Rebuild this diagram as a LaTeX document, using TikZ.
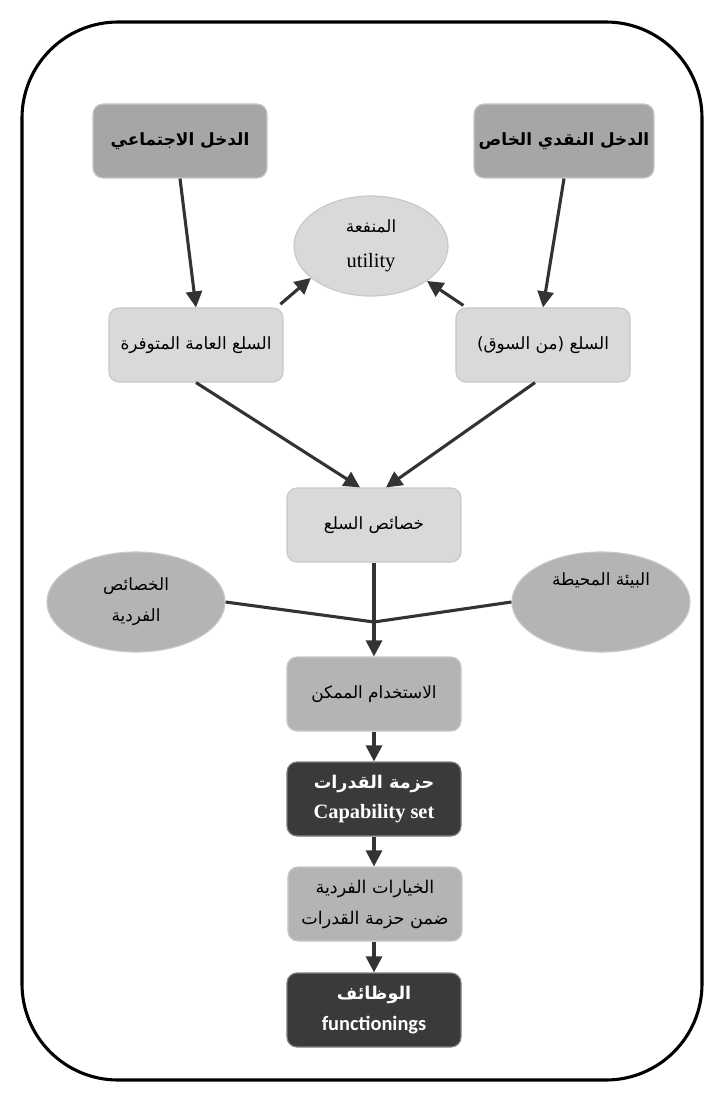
\documentclass[tikz,border=0pt]{standalone}
\usepackage{fontspec}
\setmainfont{Liberation Serif}
\newfontfamily\arabe[Script=Arabic]{DejaVu Sans}
\newfontfamily\calibri{Carlito}
\usepackage{xcolor}
\usepackage{tikz}
\usetikzlibrary{positioning, arrows.meta, shapes.geometric}
\TeXXeTstate=1
\definecolor{grisFuerte}{HTML}{A6A6A6}
\definecolor{grisMedio}{HTML}{B4B4B4}
\definecolor{grisClaro}{HTML}{D9D9D9}
\definecolor{grisOscuro}{HTML}{3A3A3A}
\definecolor{grisBorde}{HTML}{C8C8C8}
\definecolor{grisFlecha}{HTML}{333333}
\newcommand{\arabtxt}[1]{{\arabe\beginR #1\endR}}

\begin{document}
\begin{tikzpicture}[x=0.025cm, y=-0.025cm,
		caja/.style={shape=rectangle, rounded corners=0.25cm, draw=grisBorde, line width=0.8pt,
			minimum width=4.35cm, minimum height=1.85cm, align=center, font=\fontsize{12}{22}\selectfont},
		elipse/.style={shape=ellipse, draw=grisBorde, line width=0.8pt, align=center,
			minimum height=2.5cm, font=\fontsize{12}{22}\selectfont},
		flecha/.style={-{Triangle[length=0.4cm, width=0.4cm]}, line width=2.2pt, draw=grisFlecha},
		linea/.style={line width=2.2pt, draw=grisFlecha}]
	
	\useasboundingbox (0,0) rectangle (722,1100);
	
	% Marco exterior
	\draw[line width=2.2pt, rounded corners=2.4cm] (22,22) rectangle (702,1080);
	
	% Ingresos
	\node[caja, fill=grisFuerte] (IngresoSocial) at (180,141) {\bfseries\arabtxt{الدخل الاجتماعي}};
	\node[caja, fill=grisFuerte] (IngresoPrivado) at (564,141) {\bfseries\arabtxt{الدخل النقدي الخاص}};
	
	% Utilidad
	\node[elipse, fill=grisClaro, minimum width=3.85cm] (Utilidad) at (371,246)
		{\arabtxt{المنفعة}\\[0.1cm]{\fontsize{14.5}{22}\selectfont utility}};
	
	% Bienes
	\node[caja, fill=grisClaro] (BienesPublicos) at (196,345) {\arabtxt{السلع العامة المتوفرة}};
	\node[caja, fill=grisClaro] (BienesMercado) at (543,345) {\arabtxt{السلع (من السوق)}};
	\node[caja, fill=grisClaro] (Caracteristicas) at (374,525) {\arabtxt{خصائص السلع}};
	
	% Factores de conversion
	\node[elipse, fill=grisMedio, minimum width=4.45cm] (Individual) at (136,602)
		{\arabtxt{الخصائص}\\\arabtxt{الفردية}};
	\node[elipse, fill=grisMedio, minimum width=4.45cm] (Entorno) at (601,602)
		{\arabtxt{البيئة المحيطة}\\[0.35cm]};
	\coordinate (Union) at (374,622);
	
	% Cadena inferior
	\node[caja, fill=grisMedio] (Uso) at (374,694) {\arabtxt{الاستخدام الممكن}};
	\node[caja, fill=grisOscuro, draw=gray, text=white, font=\bfseries\fontsize{14.5}{22}\selectfont] (Capacidad) at (374,799)
		{{\fontsize{12.5}{22}\selectfont\arabtxt{حزمة القدرات}}\\Capability set};
	\node[caja, fill=grisMedio, font=\fontsize{12.5}{22}\selectfont] (Eleccion) at (375,904)
		{\arabtxt{الخيارات الفردية}\\\arabtxt{ضمن حزمة القدرات}};
	\node[caja, fill=grisOscuro, draw=gray, text=white, font=\bfseries\fontsize{14.5}{22}\selectfont] (Funciones) at (374,1010)
		{{\fontsize{12.5}{22}\selectfont\arabtxt{الوظائف}}\\{\calibri\bfseries functionings}};
	
	% Conexiones
	\draw[flecha] (IngresoSocial.south) -- (BienesPublicos.north);
	\draw[flecha] (IngresoPrivado.south) -- (BienesMercado.north);
	\draw[flecha] ([shift={(-0.08cm,0.08cm)}]BienesPublicos.north east) -- (Utilidad.208);
	\draw[flecha] ([shift={(0.2cm,0.05cm)}]BienesMercado.north west) -- (Utilidad.328);
	\draw[flecha] (BienesPublicos.south) -- ([xshift=-0.35cm]Caracteristicas.north);
	\draw[flecha] ([xshift=-0.2cm]BienesMercado.south) -- ([xshift=0.3cm]Caracteristicas.north);
	\draw[linea] (Individual.east) -- (Union);
	\draw[linea] (Entorno.west) -- (Union);
	\draw[flecha] (Caracteristicas.south) -- (Uso.north);
	\draw[flecha] (Uso.south) -- (Capacidad.north);
	\draw[flecha] (Capacidad.south) -- (Eleccion.north -| Capacidad.south);
	\draw[flecha] (Eleccion.south -| Capacidad.south) -- (Funciones.north);
	
\end{tikzpicture}
\end{document}
